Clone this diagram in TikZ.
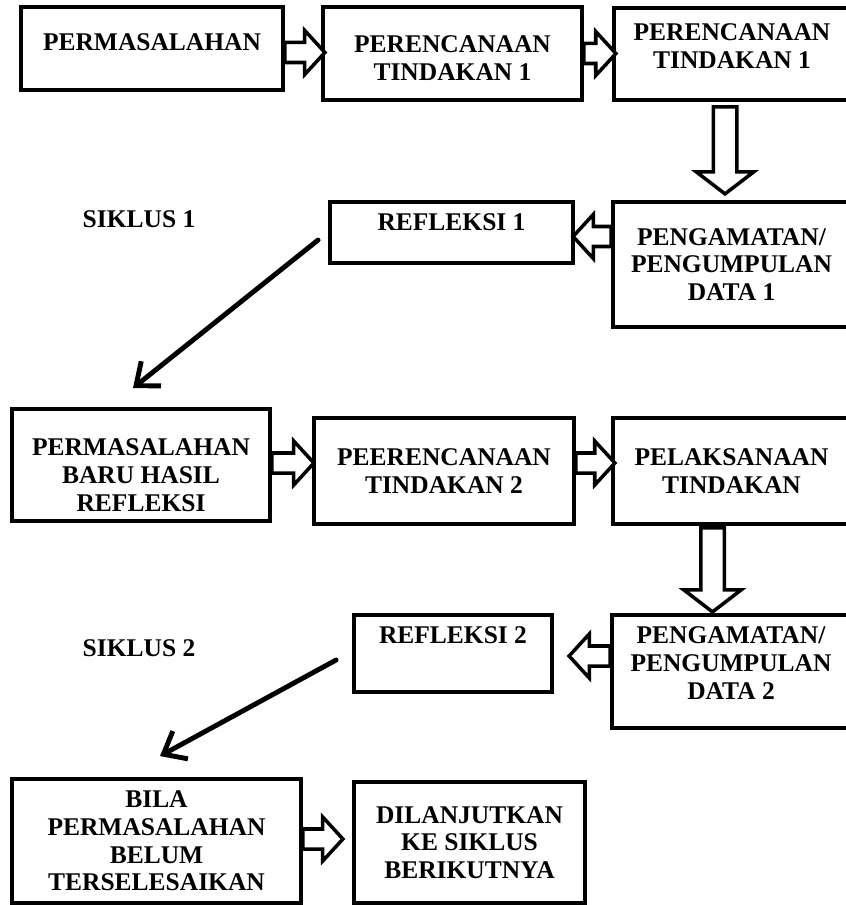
\documentclass[tikz,border=0pt]{standalone}
\usepackage{fontspec}
\setmainfont{Liberation Serif}
\usepackage{tikz}
\usetikzlibrary{shapes,shapes.arrows,arrows.meta,positioning,calc}

\begin{document}
\begin{tikzpicture}[x=0.02cm, y=-0.02cm,
    ptk box/.style={rectangle, draw, line width=2.2pt, align=center, inner sep=0pt,
        font=\bfseries\fontsize{14.5}{15.8}\selectfont},
    ptk lift/.style={text depth=#1},
    ptk drop/.style={text height=#1},
    ptk label/.style={font=\bfseries\fontsize{14.5}{15.8}\selectfont},
    ptk arrow/.style={single arrow, draw, line width=2pt, fill=white, inner sep=0.165cm, outer sep=0pt,
        single arrow head extend=0.24cm, single arrow tip angle=95, anchor=tail, minimum height=#1},
    ptk down/.style={ptk arrow=#1, shape border rotate=270, inner sep=0.2cm,
        single arrow head extend=0.34cm, single arrow tip angle=105},
    ptk left/.style={ptk arrow=#1, shape border rotate=180},
    ptk diag/.style={-{Straight Barb[length=11pt,width=18pt]}, line width=2.8pt, line cap=round}]

    \useasboundingbox (0,0) rectangle (845,905);

    \node [ptk box, minimum width=5.24cm, minimum height=1.66cm, ptk lift=0.26cm] (b1) at (152,48.5) {PERMASALAHAN};
    \node [ptk box, minimum width=5.18cm, minimum height=1.86cm, ptk drop=1.09cm] (b2) at (452.5,53.5) {PERENCANAAN\\TINDAKAN 1};
    \node [ptk box, minimum width=4.72cm, minimum height=1.84cm, ptk lift=0.32cm] (b3) at (732,54) {PERENCANAAN\\TINDAKAN 1};

    \node [ptk label] (s1) at (139,219) {SIKLUS 1};
    \node [ptk box, minimum width=4.86cm, minimum height=1.22cm, ptk lift=0.42cm] (b4) at (451.5,232.5) {REFLEKSI 1};
    \node [ptk box, minimum width=4.74cm, minimum height=2.5cm] (b5) at (731.5,264.5) {PENGAMATAN/\\PENGUMPULAN\\DATA 1};

    \node [ptk box, minimum width=5.16cm, minimum height=2.24cm, ptk drop=1.85cm] (b6) at (141,465) {PERMASALAHAN\\BARU HASIL\\REFLEKSI};
    \node [ptk box, minimum width=5.2cm, minimum height=2.12cm] (b7) at (444,471) {PEERENCANAAN\\TINDAKAN 2};
    \node [ptk box, minimum width=4.74cm, minimum height=2.12cm] (b8) at (731.5,471) {PELAKSANAAN\\TINDAKAN};

    \node [ptk label] (s2) at (139,648) {SIKLUS 2};
    \node [ptk box, minimum width=3.96cm, minimum height=1.54cm, ptk lift=0.74cm] (b9) at (453,653.5) {REFLEKSI 2};
    \node [ptk box, minimum width=4.76cm, minimum height=2.26cm, ptk lift=0.34cm] (b10) at (731,671.5) {PENGAMATAN/\\PENGUMPULAN\\DATA 2};

    \node [ptk box, minimum width=5.78cm, minimum height=2.48cm] (b11) at (156.5,841) {BILA\\PERMASALAHAN\\BELUM\\TERSELESAIKAN};
    \node [ptk box, minimum width=4.62cm, minimum height=2.42cm] (b12) at (469.5,842.5) {DILANJUTKAN\\KE SIKLUS\\BERIKUTNYA};

    \node [ptk arrow=0.8cm] (a1) at ($(b1.east)+(0,4)$) {};
    \node [ptk arrow=0.64cm] (a2) at (b2.east) {};
    \node [ptk down=1.74cm] (a3) at ($(b3.south)+(-7,5)$) {};
    \node [ptk left=0.76cm] (a4) at ($(b5.west |- b4.east)+(0,4)$) {};
    \node [ptk arrow=0.84cm] (a5) at ($(b6.east)+(0,-2)$) {};
    \node [ptk arrow=0.78cm] (a6) at ($(b7.east)+(0,-8)$) {};
    \node [ptk down=1.68cm] (a7) at ($(b8.south)+(-19,2)$) {};
    \node [ptk left=0.82cm] (a8) at ($(b10.west |- b9.east)+(0,2.5)$) {};
    \node [ptk arrow=0.8cm] (a9) at ($(b11.east)+(0,-2)$) {};

    \coordinate (d1s) at ($(b4.west)+(-10,7.5)$);
    \coordinate (d1e) at ($(b6.north)+(-8,-19)$);
    \draw [ptk diag] (d1s) -- (d1e);
    \coordinate (d2s) at ($(b9.west)+(-16,6.5)$);
    \coordinate (d2e) at ($(b11.north)+(3.5,-21)$);
    \draw [ptk diag] (d2s) -- (d2e);

\end{tikzpicture}
\end{document}
